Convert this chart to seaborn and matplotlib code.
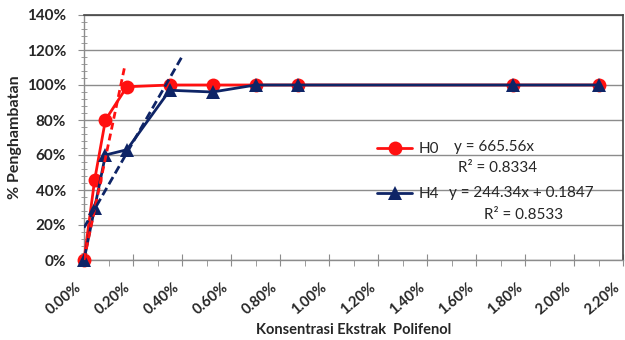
import numpy as np
import pandas as pd
import matplotlib
matplotlib.use("Agg")
import matplotlib.pyplot as plt
from matplotlib.ticker import MultipleLocator, FuncFormatter
import seaborn as sns

# data (x and y in percent)
konsentrasi = [0.0, 0.04375, 0.0875, 0.175, 0.35, 0.525, 0.7, 0.875, 1.75, 2.1]
h0 = [0, 46, 80, 99, 100, 100, 100, 100, 100, 100]
h4 = [0, 30, 60, 63, 97, 96, 100, 100, 100, 100]

# trendlines (Excel equations, x and y as fractions)
h0_slope, h0_icpt, h0_r2 = 665.56, 0.0, 0.8334
h4_slope, h4_icpt, h4_r2 = 244.34, 0.1847, 0.8533
h0_trend_x = [0.0, 0.167]
h4_trend_x = [0.0, 0.40]

red = "#FF1010"
navy = "#0E2466"

sns.set_style("white")
plt.rcParams["font.family"] = ["Lato", "DejaVu Sans"]

df = pd.DataFrame({"x": konsentrasi, "H0": h0, "H4": h4})
tr0 = pd.DataFrame({"x": h0_trend_x})
tr0["y"] = (h0_slope * tr0["x"] / 100 + h0_icpt) * 100
tr4 = pd.DataFrame({"x": h4_trend_x})
tr4["y"] = (h4_slope * tr4["x"] / 100 + h4_icpt) * 100

fig = plt.figure(figsize=(6.25, 3.4), dpi=100)
ax = fig.add_axes([84 / 625, 1 - 260 / 340, 539 / 625, 245 / 340])

sns.lineplot(data=df, x="x", y="H0", ax=ax, color=red, lw=2, marker="o",
             markersize=10, markeredgewidth=0, label="H0", clip_on=False, zorder=3)
sns.lineplot(data=df, x="x", y="H4", ax=ax, color=navy, lw=2, marker="^",
             markersize=10, markeredgewidth=0, label="H4", clip_on=False, zorder=4)
sns.lineplot(data=tr0, x="x", y="y", ax=ax, color=red, lw=2,
             linestyle=(0, (2.5, 1.5)), legend=False, zorder=5)
sns.lineplot(data=tr4, x="x", y="y", ax=ax, color=navy, lw=2,
             linestyle=(0, (3, 1.5)), legend=False, zorder=5)

ax.set_xlim(0, 2.2)
ax.set_ylim(0, 140)
ax.xaxis.set_major_locator(MultipleLocator(0.2))
ax.xaxis.set_minor_locator(MultipleLocator(0.1))
ax.yaxis.set_major_locator(MultipleLocator(20))
ax.yaxis.set_minor_locator(MultipleLocator(4))
ax.xaxis.set_major_formatter(FuncFormatter(lambda v, p: f"{v:.2f}%"))
ax.yaxis.set_major_formatter(FuncFormatter(lambda v, p: f"{v:.0f}%"))

ax.grid(axis="y", which="major", color="#8c8c8c", lw=1)
ax.set_axisbelow(True)
for s in ["left", "bottom"]:
    ax.spines[s].set_color("#8c8c8c")
    ax.spines[s].set_linewidth(1)
for s in ["top", "right"]:
    ax.spines[s].set_color("#444444")
    ax.spines[s].set_linewidth(1.2)

ax.tick_params(axis="y", which="major", direction="out", length=4, color="#8c8c8c",
               labelsize=11, pad=9, left=True)
ax.tick_params(axis="y", which="minor", direction="inout", length=5, color="#8c8c8c", left=True)
ax.tick_params(axis="x", which="major", direction="inout", length=9, color="#8c8c8c",
               labelsize=10.5, pad=10, bottom=True)
ax.tick_params(axis="x", which="minor", direction="out", length=4, color="#8c8c8c", bottom=True)
for lbl in ax.get_yticklabels():
    lbl.set_fontweight("bold")
for lbl in ax.get_xticklabels():
    lbl.set_fontweight("bold")
    lbl.set_rotation(40)
    lbl.set_ha("right")

ax.set_xlabel("Konsentrasi Ekstrak  Polifenol", fontsize=10.5, fontweight="bold", labelpad=4)
ax.set_ylabel("% Penghambatan", fontsize=11.5, fontweight="bold", labelpad=3)

handles, labels = ax.get_legend_handles_labels()
ax.legend(handles[:2], labels[:2], loc="upper left", bbox_to_anchor=(0.544, 0.48),
          frameon=False, fontsize=11, borderpad=0, borderaxespad=0,
          handlelength=2.3, handletextpad=0.4, labelspacing=2.0)

eq_kw = dict(transform=ax.transAxes, fontsize=11, va="center", ha="left")
ax.text(0.687, 0.461, f"y = {h0_slope}x", **eq_kw)
ax.text(0.693, 0.376, f"R² = {h0_r2}", **eq_kw)
ax.text(0.678, 0.273, f"y = {h4_slope}x + {h4_icpt}", **eq_kw)
ax.text(0.743, 0.184, f"R² = {h4_r2}", **eq_kw)

fig.savefig("out.png", dpi=100)
